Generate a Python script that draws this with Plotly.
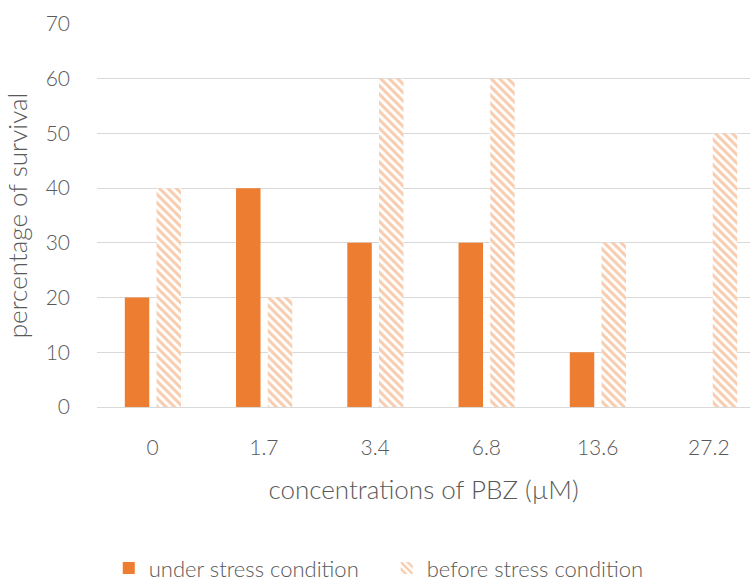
import plotly.graph_objects as go

categories = ["0", "1.7", "3.4", "6.8", "13.6", "27.2"]
under_stress = [20, 40, 30, 30, 10, 0]
before_stress = [40, 20, 60, 60, 30, 50]

x_idx = list(range(len(categories)))
text_color = "#595959"
font_family = "Lato, Open Sans, sans-serif"

fig = go.Figure()
fig.add_trace(go.Bar(
    x=x_idx, y=under_stress, name="under stress condition",
    width=0.22, offset=-0.25,
    marker=dict(color="#ED7D31", line=dict(width=0)),
))
fig.add_trace(go.Bar(
    x=x_idx, y=before_stress, name="before stress condition",
    width=0.22, offset=0.035,
    marker=dict(
        color="white",
        line=dict(width=0),
        pattern=dict(shape="\\", fgcolor="#F8CBAD", bgcolor="white",
                     size=6, solidity=0.5, fillmode="replace"),
    ),
))

fig.update_layout(
    width=750, height=581,
    margin=dict(l=97, r=0, t=24, b=174),
    paper_bgcolor="white", plot_bgcolor="white",
    barmode="overlay",
    font=dict(family=font_family, color=text_color, size=21, weight=300),
    showlegend=True,
    legend=dict(
        orientation="h", xref="container", yref="container",
        x=0.145, y=0.022, xanchor="left", yanchor="middle",
        font=dict(size=22, color=text_color, weight=300),
        itemwidth=30, entrywidth=233, entrywidthmode="pixels",
        traceorder="normal",
    ),
    xaxis=dict(
        tickmode="array", tickvals=x_idx, ticktext=categories,
        range=[-0.5, 5.37], showgrid=False, zeroline=False,
        showline=False, ticks="", ticklabelstandoff=26,
        title=dict(text="concentrations of PBZ (µM)", font=dict(size=26, weight=300), standoff=22),
    ),
    yaxis=dict(
        range=[0, 70], dtick=10, showgrid=True, gridcolor="#D9D9D9", gridwidth=1,
        zeroline=True, zerolinecolor="#D9D9D9", zerolinewidth=1,
        showline=False, ticks="", ticklabelstandoff=26,
        title=dict(text="percentage of survival", font=dict(size=26, weight=300), standoff=10),
    ),
)

fig.write_html("out.html")
